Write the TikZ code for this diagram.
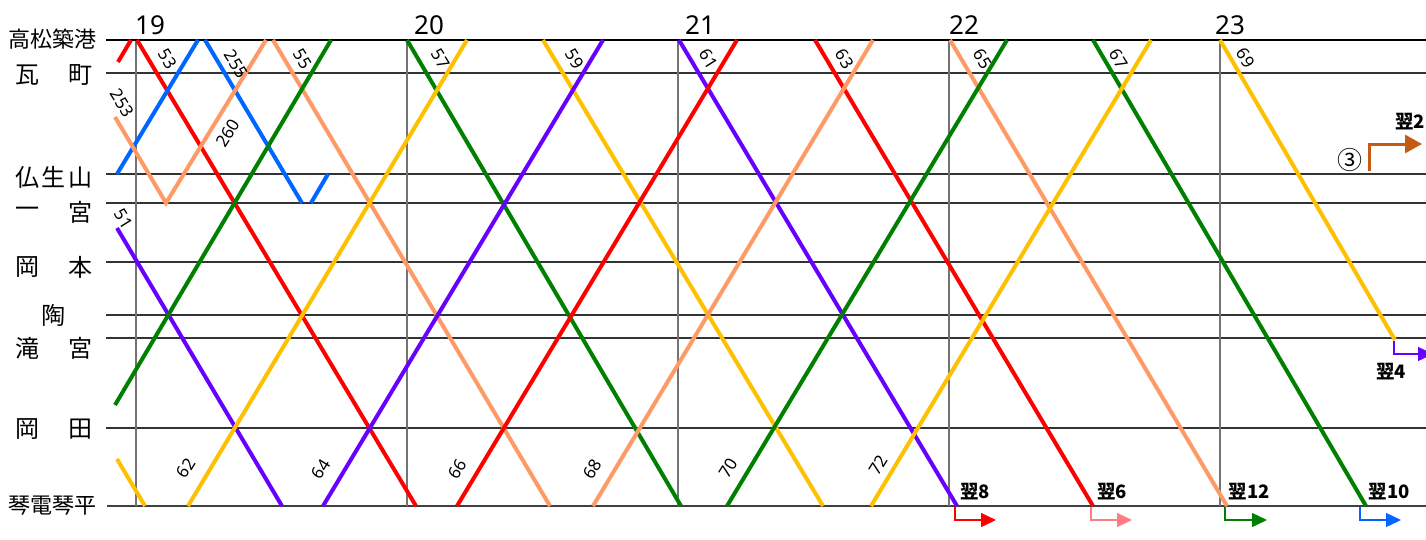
\documentclass[tikz,border=0pt]{standalone}
\usepackage{fontspec}
\setmainfont{Noto Sans}
\newfontfamily\jp{Noto Sans CJK JP}
\usetikzlibrary{arrows.meta}
\definecolor{tred}{HTML}{FF0000}
\definecolor{tblue}{HTML}{0066FF}
\definecolor{torange}{HTML}{FF9966}
\definecolor{tgreen}{HTML}{008000}
\definecolor{tyellow}{HTML}{FFC000}
\definecolor{tpurple}{HTML}{6600FF}
\definecolor{tpink}{HTML}{FF7C80}
\definecolor{tbrown}{HTML}{C55A11}
\begin{document}
\begin{tikzpicture}[x=1pt,y=-1pt,
  train/.style={line width=4pt},
  hgrid/.style={line width=1.3pt, black!80},
  vgrid/.style={line width=1.3pt, black!55},
  stn/.style={font=\jp\fontsize{24}{24}\selectfont, inner sep=0pt},
  stnsmall/.style={font=\jp\fontsize{22}{22}\selectfont, inner sep=0pt},
  hour/.style={font=\fontsize{26}{26}\selectfont, inner sep=0pt, anchor=base west},
  dnum/.style={font=\fontsize{17}{17}\selectfont, inner sep=0pt, rotate=-58},
  unum/.style={font=\fontsize{17}{17}\selectfont, inner sep=0pt, rotate=58},
  nxt/.style={font=\jp\bfseries\fontsize{18.5}{18.5}\selectfont, inner sep=0pt},
  nxtarrow/.style={line width=1.3pt, -{Triangle[length=15pt,width=14pt]}}
]
\useasboundingbox (0,0) rectangle (1426,539);
\fill[white] (0,0) rectangle (1426,539);

% station grid lines
\foreach \yy in {73,174,203,262,315,338,428}
  \draw[hgrid] (106,\yy) -- (1426,\yy);
\draw[line width=1.8pt, black!75] (107,506) -- (1426,506);
% hour lines
\foreach \xx in {136,407,678,949,1220}
  \draw[vgrid] (\xx,40) -- (\xx,506);
\draw[line width=2.6pt, black] (106,40) -- (1220,40);
\draw[line width=1.3pt, black] (1220,40) -- (1426,40);

% station names
\node[stnsmall] (s0) at (53,39) {高松築港};
\node[stn] (s1a) at (27,75) {瓦};
\node[stn] (s1b) at (80,75) {町};
\node[stn] (s2a) at (27,177) {仏};
\node[stn] (s2b) at (53,177) {生};
\node[stn] (s2c) at (80,177) {山};
\node[stn] (s3a) at (27,212) {一};
\node[stn] (s3b) at (80,212) {宮};
\node[stn] (s4a) at (27,267) {岡};
\node[stn] (s4b) at (80,267) {本};
\node[stn] (s5) at (53,315) {陶};
\node[stn] (s6a) at (27,348) {滝};
\node[stn] (s6b) at (80,348) {宮};
\node[stn] (s7a) at (27,429) {岡};
\node[stn] (s7b) at (80,429) {田};
\node[stnsmall] (s8) at (53,506) {琴電琴平};

% hours
\node[hour] (h19) at (135,34) {19};
\node[hour] (h20) at (414,34) {20};
\node[hour] (h21) at (685,34) {21};
\node[hour] (h22) at (949,34) {22};
\node[hour] (h23) at (1215,34) {23};

% down trains
\draw[train,tred]    (137,40) -- (416,506);
\draw[train,torange] (273,40) -- (550,506);
\draw[train,tgreen]  (407,40) -- (681,506);
\draw[train,tyellow] (543,40) -- (823,506);
\draw[train,tpurple] (679,40) -- (957,506);
\draw[train,tred]    (815,40) -- (1093,506);
\draw[train,torange] (950,40) -- (1227,506);
\draw[train,tgreen]  (1093,40) -- (1366,506);
\draw[train,tyellow] (1220,40) -- (1395,340);
\draw[train,tpurple] (117,228) -- (282,506);
\draw[train,tyellow] (117,459) -- (145,506);
\draw[train,tblue]   (205,40) -- (302,203);
% up trains
\draw[train,tyellow] (188,506) -- (467,40);
\draw[train,tpurple] (323,506) -- (603,40);
\draw[train,tred]    (457,506) -- (737,40);
\draw[train,torange] (593,506) -- (873,40);
\draw[train,tgreen]  (727,506) -- (1007,40);
\draw[train,tyellow] (871,506) -- (1151,40);
\draw[train,tgreen]  (115,405) -- (331,40);
\draw[train,tblue]   (117,174) -- (198,40);
\draw[train,tblue]   (311,203) -- (328,174);
\draw[train,tred]    (118,62) -- (131,40);
% 253 / 260
\draw[train,torange] (115,117) -- (166,203) -- (266,40);

% train numbers
\node[dnum] (n53) at (168,59) {53};
\node[dnum] (n255) at (236,64) {255};
\node[dnum] (n55) at (303,59) {55};
\node[dnum] (n253) at (122,103) {253};
\node[unum] (n260) at (228,133) {260};
\node[dnum] (n51) at (124,219) {51};
\node[dnum] (n57) at (441,59) {57};
\node[dnum] (n59) at (575,59) {59};
\node[dnum] (n61) at (709,59) {61};
\node[dnum] (n63) at (845,59) {63};
\node[dnum] (n65) at (983,59) {65};
\node[dnum] (n67) at (1119,59) {67};
\node[dnum] (n69) at (1246,58) {69};
\node[unum] (n62) at (186,468) {62};
\node[unum] (n64) at (321,469) {64};
\node[unum] (n66) at (457,469) {66};
\node[unum] (n68) at (592,469) {68};
\node[unum] (n70) at (728,468) {70};
\node[unum] (n72) at (878,465) {72};

% continuation arrows
\coordinate (a8s) at (955,507);  \coordinate (a8e) at (996,520);
\coordinate (a6s) at (1091,507); \coordinate (a6e) at (1132,520);
\coordinate (a12s) at (1225,507); \coordinate (a12e) at (1267,520);
\coordinate (a10s) at (1360,507); \coordinate (a10e) at (1401,520);
\coordinate (a4s) at (1394,341); \coordinate (a4e) at (1433,354);
\coordinate (a2s) at (1369,171); \coordinate (a2e) at (1422,144);
\draw[nxtarrow,tred] (a8s) |- (a8e);
\draw[nxtarrow,tpink] (a6s) |- (a6e);
\draw[nxtarrow,tgreen] (a12s) |- (a12e);
\draw[nxtarrow,tblue] (a10s) |- (a10e);
\draw[nxtarrow,tpurple] (a4s) |- (a4e);
\draw[line width=3pt, tbrown, -{Triangle[length=17pt,width=18pt]}] (a2s) |- (a2e);

\node[nxt] (t8) at (975,492) {翌8};
\node[nxt] (t6) at (1112,492) {翌6};
\node[nxt] (t12) at (1249,492) {翌12};
\node[nxt] (t10) at (1389,492) {翌10};
\node[nxt] (t4) at (1391,372) {翌4};
\node[nxt] (t2) at (1410,122) {翌2};
\node[font=\jp\fontsize{25}{25}\selectfont, inner sep=0pt] (c3) at (1350,160) {③};
\end{tikzpicture}
\end{document}
